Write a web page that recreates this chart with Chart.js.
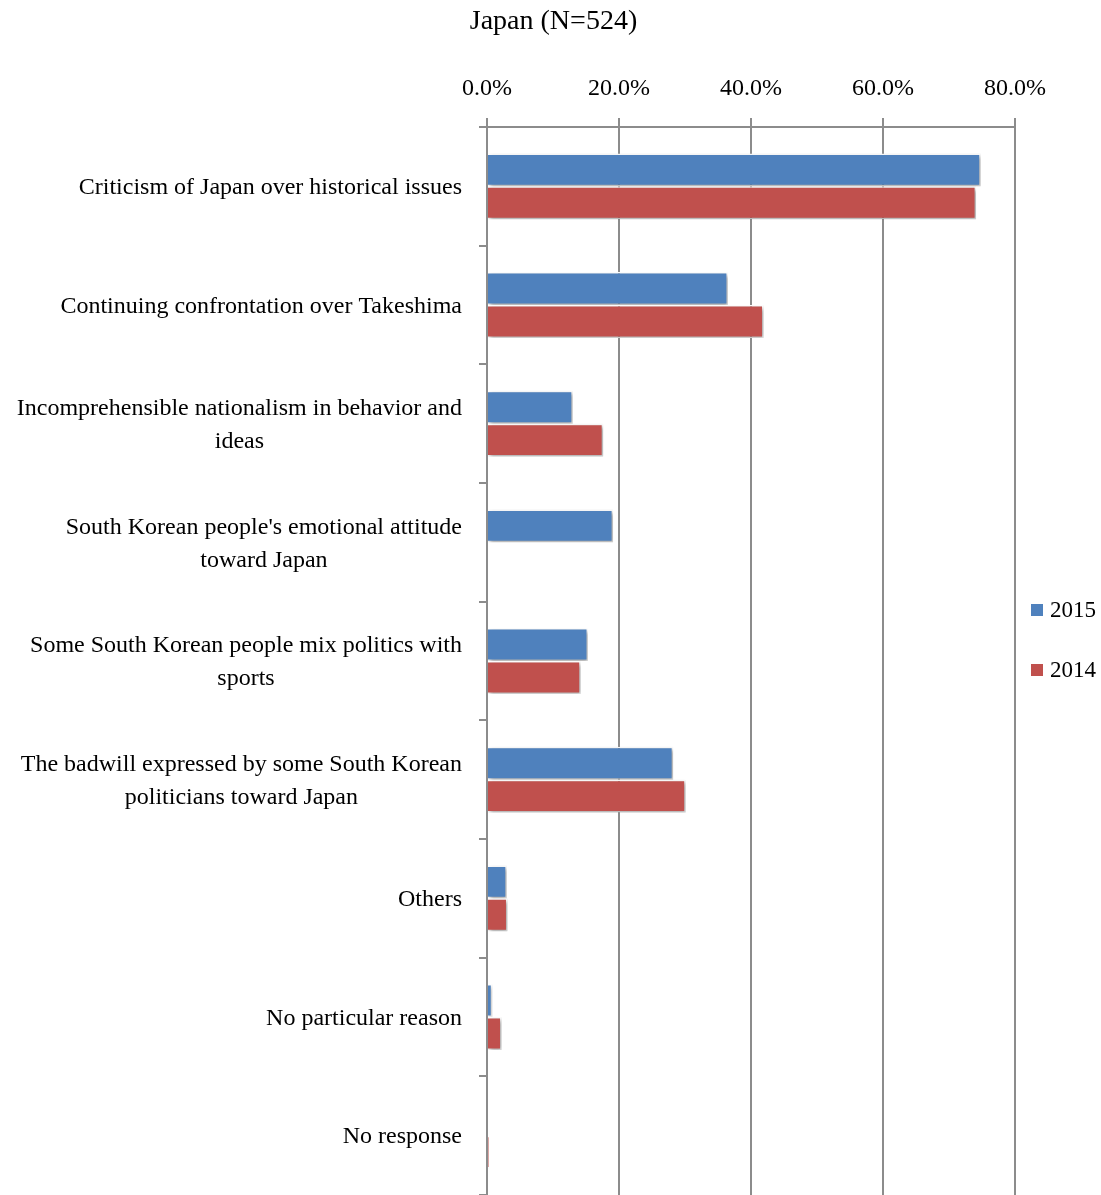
<!DOCTYPE html>
<html>
<head>
<meta charset="utf-8">
<script src="https://cdn.jsdelivr.net/npm/chart.js@4/dist/chart.umd.min.js"></script>
<style>
    body { margin: 0; background: #ffffff; }
    canvas { display: block; }
</style>
</head>
<body>
<canvas id="reasonChart" width="1101" height="1195"></canvas>
<script>
// Reasons (Japan, N=524)
const chartTitle = 'Japan (N=524)'
const categories = [
    'Criticism of Japan over historical issues',
    'Continuing confrontation over Takeshima',
    ['Incomprehensible nationalism in behavior and', 'ideas'],
    ["South Korean people's emotional attitude", 'toward Japan'],
    ['Some South Korean people mix politics with', 'sports'],
    ['The badwill expressed by some South Korean', 'politicians toward Japan'],
    'Others',
    'No particular reason',
    'No response',
]
const values2015 = [74.8, 36.5, 13.0, 19.1, 15.3, 28.2, 3.0, 0.8, 0]
const values2014 = [74.1, 41.9, 17.6, null, 14.2, 30.1, 3.1, 2.2, 0.3]
const xTicks = [0, 20, 40, 60, 80]

const FONT = "'Liberation Serif', 'Times New Roman', serif"
const AXIS_GREY = '#8c8c8c'

const canvas = document.querySelector('#reasonChart')
const ctx = canvas.getContext('2d')

// soft drop shadow under the bars
const barShadowPlugin = {
    id: 'barShadowPlugin',
    beforeDatasetsDraw(chart) {
        const c = chart.ctx
        c.save()
        c.shadowColor = 'rgba(0,0,0,0.35)'
        c.shadowBlur = 4
        c.shadowOffsetX = 2
        c.shadowOffsetY = 2
    },
    afterDatasetsDraw(chart) {
        chart.ctx.restore()
    },
}

// title centred on the page (not on the plot)
const pageTitlePlugin = {
    id: 'pageTitlePlugin',
    afterDraw(chart) {
        const c = chart.ctx
        c.save()
        c.font = '28px ' + FONT
        c.fillStyle = '#000000'
        c.textAlign = 'center'
        c.textBaseline = 'middle'
        c.fillText(chartTitle, chart.width / 2 + 3, 22)
        c.restore()
    },
}

// category labels: block right aligned, lines centred inside the block
const categoryLabelPlugin = {
    id: 'categoryLabelPlugin',
    afterDraw(chart) {
        const c = chart.ctx
        const yScale = chart.scales.y
        const right = chart.chartArea.left - 25
        const lineHeight = 33
        c.save()
        c.font = '24px ' + FONT
        c.fillStyle = '#000000'
        c.textAlign = 'center'
        c.textBaseline = 'middle'
        chart.data.labels.forEach((label, i) => {
            const lines = Array.isArray(label) ? label : [label]
            const maxW = Math.max(...lines.map((l) => c.measureText(l).width))
            const cx = right - maxW / 2
            const cy = yScale.getPixelForTick(i) + 1.5
            const top = cy - ((lines.length - 1) * lineHeight) / 2
            lines.forEach((l, j) => c.fillText(l, cx, top + j * lineHeight))
        })
        c.restore()
    },
}

// legend on the right, square markers
const sideLegendPlugin = {
    id: 'sideLegendPlugin',
    afterDraw(chart) {
        const c = chart.ctx
        const x = chart.chartArea.right + 16
        c.save()
        c.font = '23px ' + FONT
        c.textAlign = 'left'
        c.textBaseline = 'middle'
        chart.data.datasets.forEach((ds, i) => {
            const y = 610 + i * 60
            c.fillStyle = ds.backgroundColor
            c.fillRect(x, y - 6, 12, 12)
            c.fillStyle = '#000000'
            c.fillText(ds.label, x + 19, y + 1)
        })
        c.restore()
    },
}

const data = {
    labels: categories,
    datasets: [
        {
            label: '2015',
            data: values2015,
            backgroundColor: '#4F81BD',
            borderColor: '#ffffff',
            borderWidth: 1.5,
        },
        {
            label: '2014',
            data: values2014,
            backgroundColor: '#C0504D',
            borderColor: '#ffffff',
            borderWidth: 1.5,
        },
    ],
}

const config = {
    type: 'bar',
    data: data,
    plugins: [barShadowPlugin, pageTitlePlugin, categoryLabelPlugin, sideLegendPlugin],
    options: {
        indexAxis: 'y',
        responsive: false,
        animation: false,
        layout: {
            padding: { left: 0, right: 86, top: 37, bottom: -4 },
        },
        datasets: {
            bar: {
                barPercentage: 1,
                categoryPercentage: 0.555,
            },
        },
        plugins: {
            legend: { display: false },
            tooltip: { enabled: false },
            title: { display: false },
        },
        scales: {
            x: {
                position: 'top',
                min: 0,
                max: 80,
                afterBuildTicks(scale) {
                    scale.ticks = xTicks.map((v) => ({ value: v }))
                },
                afterFit(scale) {
                    scale.height = 90
                },
                ticks: {
                    color: '#000000',
                    font: { family: FONT, size: 24 },
                    padding: 15,
                    maxRotation: 0,
                    callback: (v) => v.toFixed(1) + '%',
                },
                grid: {
                    color: AXIS_GREY,
                    lineWidth: 2,
                    tickLength: 9,
                },
                border: { display: true, color: AXIS_GREY, width: 2 },
            },
            y: {
                afterFit(scale) {
                    scale.width = 487
                },
                ticks: { display: false },
                grid: {
                    offset: true,
                    drawOnChartArea: false,
                    drawTicks: true,
                    tickLength: 8,
                    color: AXIS_GREY,
                    lineWidth: 2,
                },
                border: { display: true, color: AXIS_GREY, width: 2 },
            },
        },
    },
}

const reasonChart = new Chart(ctx, config)
</script>
</body>
</html>
